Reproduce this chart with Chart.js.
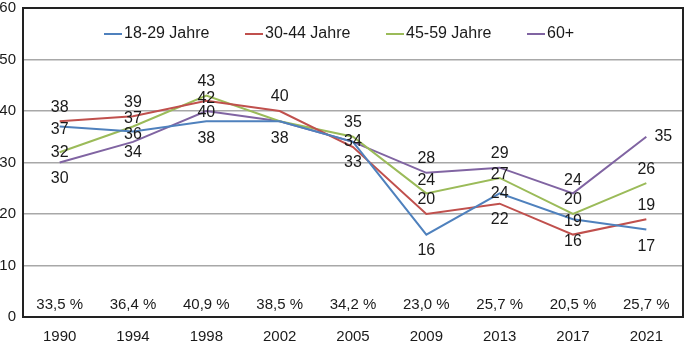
<!DOCTYPE html>
<html>
<head>
<meta charset="utf-8">
<script src="https://cdn.jsdelivr.net/npm/chart.js@4.4.0/dist/chart.umd.min.js"></script>
<style>
  html, body { margin: 0; padding: 0; background: #fff; }
  #wrap { width: 685px; height: 344px; }
</style>
</head>
<body>
<div id="wrap"><canvas id="chart" width="685" height="344"></canvas></div>
<script>
// Werte
const years = ["1990", "1994", "1998", "2002", "2005", "2009", "2013", "2017", "2021"];
const group1829 = [37, 36, 38, 38, 34, 16, 24, 19, 17];
const group3044 = [38, 39, 42, 40, 33, 20, 22, 16, 19];
const group4559 = [32, 37, 43, 38, 35, 24, 27, 20, 26];
const group60 = [30, 34, 40, 38, 34, 28, 29, 24, 35];
const turnout = ["33,5 %", "36,4 %", "40,9 %", "38,5 %", "34,2 %", "23,0 %", "25,7 %", "20,5 %", "25,7 %"];
const yMin = 0, yMax = 60, yStep = 10;

// Versatz der Zahlen-Labels (px), null = kein Label
const labelDy = [
  [3, 3, 17, 17, 0, 16, 0, 2, 17],
  [-14, -14, -2, -14, 16, -14, 16, 7, -14],
  [0, -8, -14, null, -14, -13, -3, -14, -14],
  [16, 11, 2, null, null, -14, -14, -13, 0]
];
const labelDx = [
  [0, 0, 0, 0, 0, 0, 0, 0, 0],
  [0, 0, 0, 0, 0, 0, 0, 0, 0],
  [0, 0, 0, 0, 0, 0, 0, 0, 0],
  [0, 0, 0, 0, 0, 0, 0, 0, 17]
];

const FONT = "'Liberation Sans', Arial, sans-serif";

const framePlugin = {
  id: "frame",
  beforeDatasetsDraw(chart) {
    const { ctx, chartArea: a } = chart;
    ctx.save();
    ctx.strokeStyle = "#222";
    ctx.lineWidth = 2;
    ctx.strokeRect(a.left, a.top, a.right - a.left, a.bottom - a.top);
    ctx.restore();
  }
};

const labelsPlugin = {
  id: "pointLabels",
  afterDatasetsDraw(chart) {
    const { ctx, scales } = chart;
    ctx.save();
    ctx.font = "16px " + FONT;
    ctx.fillStyle = "#1a1a1a";
    ctx.textAlign = "center";
    ctx.textBaseline = "middle";
    chart.data.datasets.forEach((ds, i) => {
      const meta = chart.getDatasetMeta(i);
      meta.data.forEach((pt, j) => {
        const dy = labelDy[i][j];
        if (dy === null) return;
        ctx.fillText(String(ds.data[j]), pt.x + labelDx[i][j], pt.y + dy);
      });
    });
    // Wahlbeteiligung unten
    ctx.font = "15px " + FONT;
    turnout.forEach((t, j) => {
      ctx.fillText(t, scales.x.getPixelForValue(j), chart.chartArea.bottom - 12);
    });
    // Legende
    ctx.font = "16px " + FONT;
    ctx.textAlign = "left";
    chart.data.datasets.forEach((ds, i) => {
      const x = chart.chartArea.left + 81 + i * 141;
      const y = chart.chartArea.top + 26;
      ctx.strokeStyle = ds.borderColor;
      ctx.lineWidth = 2;
      ctx.beginPath();
      ctx.moveTo(x, y);
      ctx.lineTo(x + 18, y);
      ctx.stroke();
      ctx.fillText(ds.label, x + 20, y);
    });
    ctx.restore();
  }
};

new Chart(document.getElementById("chart"), {
  type: "line",
  data: {
    labels: years,
    datasets: [
      { label: "18-29 Jahre", data: group1829, borderColor: "#4F81BD" },
      { label: "30-44 Jahre", data: group3044, borderColor: "#C0504D" },
      { label: "45-59 Jahre", data: group4559, borderColor: "#9BBB59" },
      { label: "60+", data: group60, borderColor: "#8064A2" }
    ]
  },
  options: {
    responsive: false,
    animation: false,
    layout: { padding: { top: 8, right: 2, left: 0, bottom: 0 } },
    elements: {
      line: { borderWidth: 2, tension: 0 },
      point: { radius: 0 }
    },
    plugins: { legend: { display: false }, tooltip: { enabled: false } },
    scales: {
      x: {
        offset: true,
        grid: { display: false, drawTicks: false },
        border: { display: false },
        ticks: { color: "#1a1a1a", font: { family: FONT, size: 15 }, padding: 11, maxRotation: 0 },
        afterFit(s) { s.height = 27; s.paddingLeft = 0; s.paddingRight = 0; }
      },
      y: {
        min: yMin,
        max: yMax,
        grid: { color: "#a8a8a8", lineWidth: 1.5, drawTicks: false },
        border: { display: false },
        ticks: { stepSize: yStep, color: "#1a1a1a", font: { family: FONT, size: 15 }, padding: 7 },
        afterFit(s) { s.width = 23; s.paddingTop = 0; s.paddingBottom = 0; }
      }
    }
  },
  plugins: [framePlugin, labelsPlugin]
});
</script>
</body>
</html>
